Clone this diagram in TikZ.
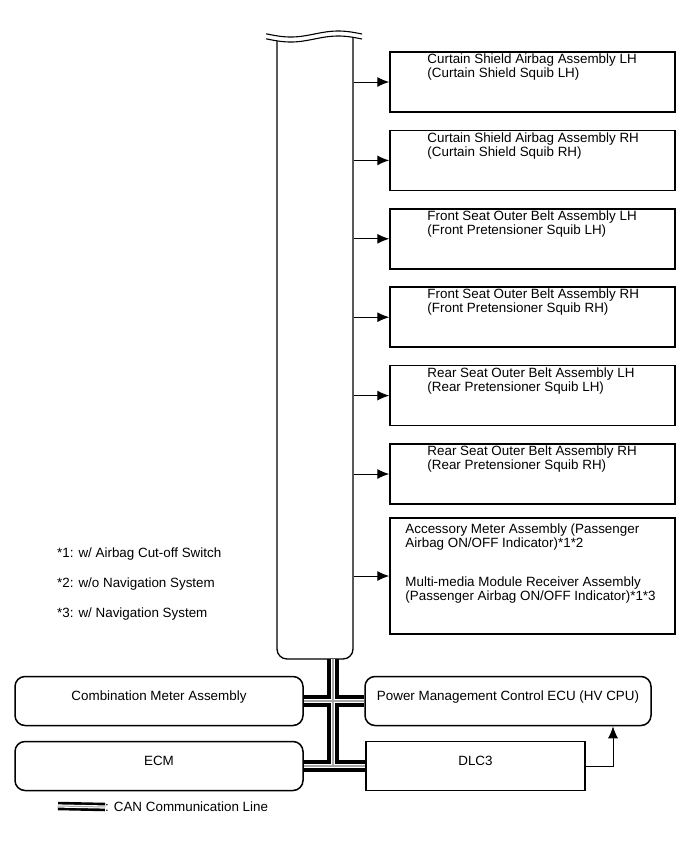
\documentclass[tikz,border=0pt]{standalone}
\usepackage{fontspec}
\setmainfont{Liberation Sans}
\usetikzlibrary{positioning,arrows.meta}
\tikzset{
  box/.style={draw, line width=1.5pt, minimum width=285pt, minimum height=60pt, inner sep=0pt},
  rbox/.style={draw, line width=1.5pt, rounded corners=10pt, minimum height=49pt, inner sep=0pt,
    text height=9.8pt, text depth=11pt, font=\fontsize{13.4}{14}\selectfont},
  txt/.style={inner sep=0pt, align=left, font=\fontsize{13.4}{14}\selectfont},
  arr/.style={-{Latex[length=12pt,width=10pt]}, line width=1pt},
  canblack/.style={line width=12pt, black},
  canwhite/.style={line width=4.5pt, white},
  cangray/.style={line width=1.2pt, black!35},
}
\begin{document}
\begin{tikzpicture}[x=1pt,y=-1pt]
  \useasboundingbox (0,0) rectangle (691,855);
  % airbag sensor, cut off at the top
  \node[draw, line width=1.3pt, rounded corners=10pt, minimum width=76pt, minimum height=639pt] (sensor) at (315,339.5) {};
  \fill[white] plot[domain=262:368,samples=50] (\x,{39+3*sin(3.79*(\x-267))}) -- (368,10) -- (262,10) -- cycle;
  \draw[line width=1.1pt] plot[domain=266:362,samples=50] (\x,{34+3*sin(3.79*(\x-267))});
  \draw[line width=1.1pt] plot[domain=266:362,samples=50] (\x,{39+3*sin(3.79*(\x-267))});

  % squibs
  \foreach \i/\la/\lb in {1/Curtain Shield Airbag Assembly LH/{(Curtain Shield Squib LH)},
      2/Curtain Shield Airbag Assembly RH/{(Curtain Shield Squib RH)},
      3/Front Seat Outer Belt Assembly LH/{(Front Pretensioner Squib LH)},
      4/Front Seat Outer Belt Assembly RH/{(Front Pretensioner Squib RH)},
      5/Rear Seat Outer Belt Assembly LH/{(Rear Pretensioner Squib LH)},
      6/Rear Seat Outer Belt Assembly RH/{(Rear Pretensioner Squib RH)}}
  {
    \node[box] (b\i) at (532.5,{82+78.4*(\i-1)}) {};
    \node[txt, anchor=north west] (t\i) at ([xshift=38pt,yshift=-2.5pt]b\i.north west) {\la\\\lb};
    \draw[arr] (sensor.east |- b\i.west) -- (b\i.west);
  }
  \node[box, minimum height=116pt] (b7) at (532.5,576) {};
  \node[txt, anchor=north west] (t7) at ([xshift=16pt,yshift=-6.5pt]b7.north west)
    {Accessory Meter Assembly (Passenger\\Airbag ON/OFF Indicator)*1*2\\[25pt]Multi-media Module Receiver Assembly\\(Passenger Airbag ON/OFF Indicator)*1*3};
  \draw[arr] (sensor.east |- b7.west) -- (b7.west);

  % notes
  \node[txt, anchor=base west] (n1) at (57,557) {*1: w/ Airbag Cut-off Switch};
  \node[txt, anchor=base west] (n2) at (57,587) {*2: w/o Navigation System};
  \node[txt, anchor=base west] (n3) at (57,617) {*3: w/ Navigation System};

  % ECUs on the bus
  \node[rbox, minimum width=288pt] (comb) at (159,701) {Combination Meter Assembly};
  \node[rbox, minimum width=288pt] (ecm) at (159,766) {ECM};
  \node[rbox, minimum width=286pt] (power) at (508,701) {Power Management Control ECU (HV CPU)};
  \node[rbox, rounded corners=0pt, minimum width=219pt] (dlc) at (475.5,766) {DLC3};
  \coordinate (dlcin) at (613,0);
  \draw[arr] (dlc.east) -| (dlcin |- power.south);

  % CAN lines
  \coordinate (bus) at (333,659);
  \foreach \s in {canblack,canwhite,cangray}
  {
    \draw[\s] (bus) -- (bus |- ecm.east);
    \draw[\s] (comb.east) -- (power.west);
    \draw[\s] (ecm.east) -- (dlc.west);
  }
  % legend
  \coordinate (lg) at (58,806);
  \node[txt, anchor=west] (lgt) at (105,807) {: CAN Communication Line};
  \foreach \s/\w in {canblack/8.5pt,canwhite/3.2pt,cangray/1pt}
    \draw[\s, line width=\w] (lg) -- (lgt.west);
\end{tikzpicture}
\end{document}
